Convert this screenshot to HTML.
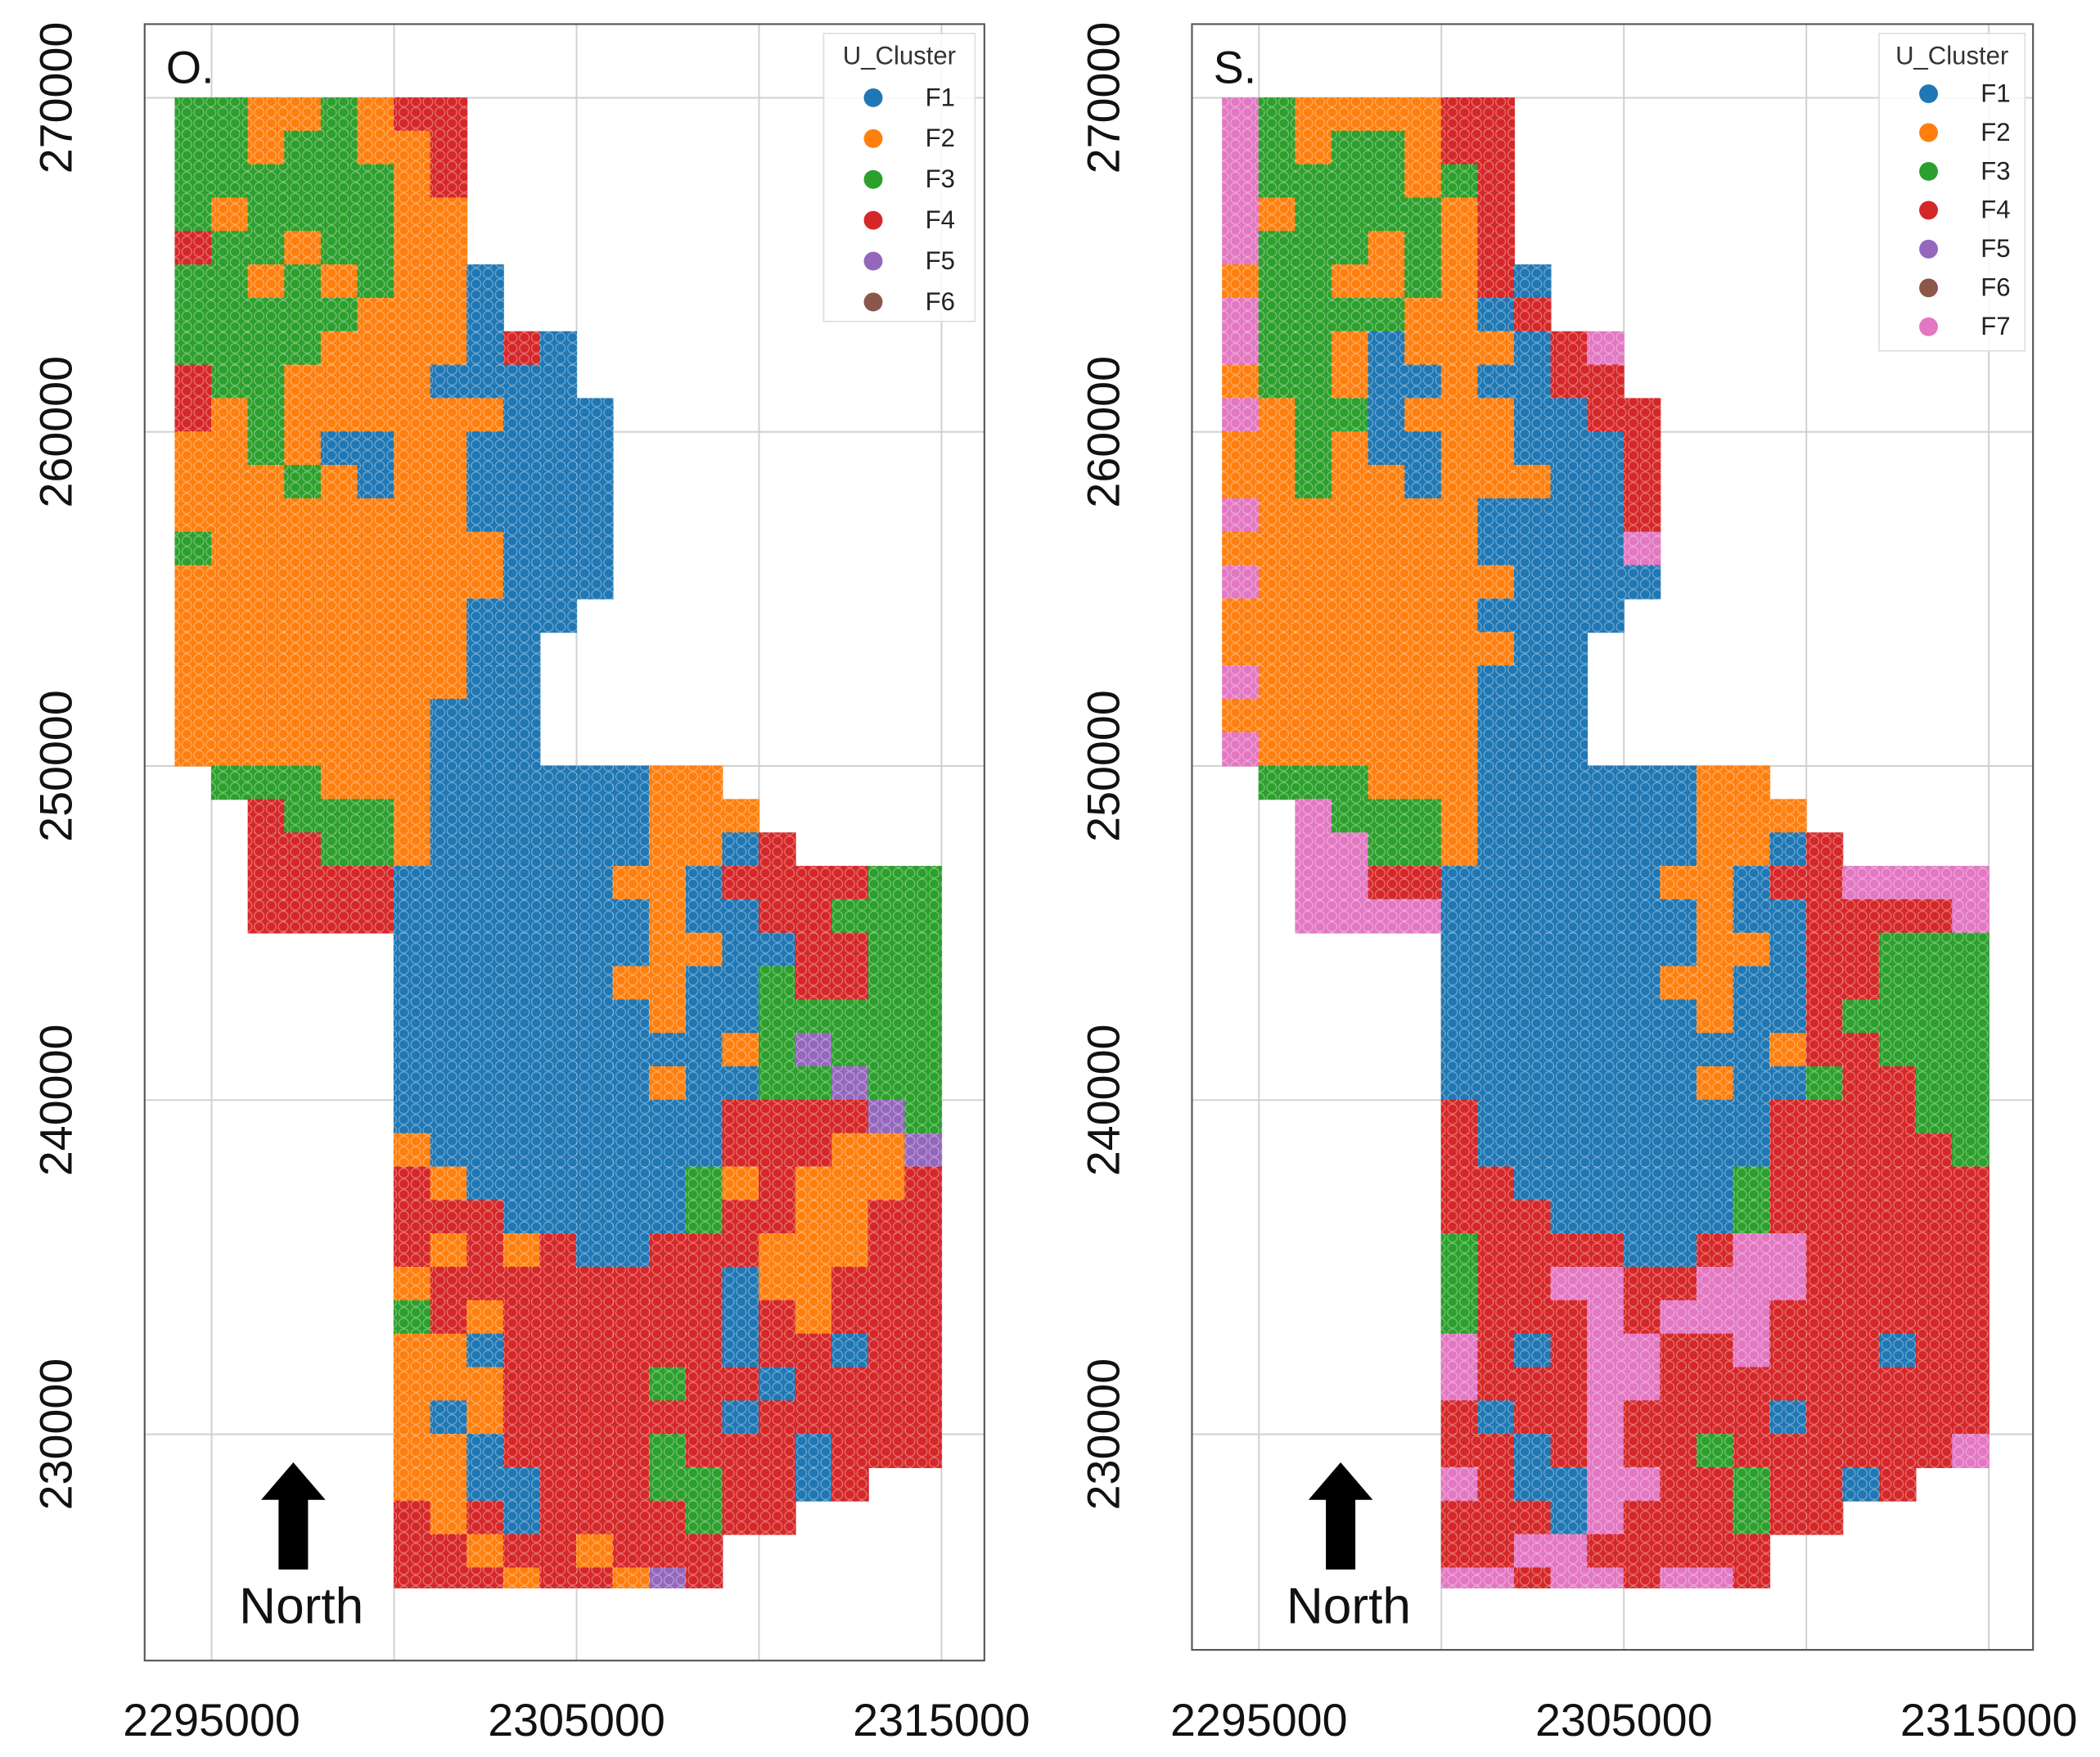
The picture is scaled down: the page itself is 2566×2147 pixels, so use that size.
<!DOCTYPE html>
<html><head><meta charset="utf-8"><style>
html,body{margin:0;padding:0;background:#fff;}
svg{display:block;font-family:"Liberation Sans",sans-serif;}
</style></head><body>
<svg id="chart" width="2566" height="2147" viewBox="0 0 1568 1312" preserveAspectRatio="none" xmlns="http://www.w3.org/2000/svg">
<defs>
<pattern id="dots" width="9" height="8" patternUnits="userSpaceOnUse">
<circle cx="4.5" cy="4" r="3.6" fill="none" stroke="#fff" stroke-opacity="0.35" stroke-width="0.8"/>
</pattern>
</defs>
</svg>
<script>
// ---- data ----
const clusterNames = ["F1","F2","F3","F4","F5","F6","F7"];
const clusterCodes = ["b","o","g","r","p","n","k"];
const clusterColors = ["#1f77b4","#ff7f0e","#2ca02c","#d62728","#9467bd","#8c564b","#e377c2"];
const xTicks = [2295000, 2305000, 2315000];
const xGrid = [2295000, 2300000, 2305000, 2310000, 2315000];
const yTicks = [270000, 260000, 250000, 240000, 230000];
const gridX0 = 2294000; // easting of column 0
const gridY0 = 270000;  // northing of row 0 top
const cellSize = 1000;
// rows: [startColumn, cluster codes]
const leftRows = [
[0,"ggoogorr"],[0,"ggoggoor"],[0,"ggggggor"],[0,"goggggoo"],[0,"rggoggoo"],
[0,"ggogogoob"],[0,"gggggooob"],[0,"ggggoooobrb"],[0,"rggoooobbbb"],[0,"rogoooooobbb"],
[0,"oogobboobbbb"],[0,"ooogoboobbbb"],[0,"oooooooobbbb"],[0,"goooooooobbb"],[0,"ooooooooobbb"],
[0,"oooooooobbb"],[0,"oooooooobb"],[0,"oooooooobb"],[0,"ooooooobbb"],[0,"ooooooobbb"],
[1,"gggooobbbbbboo"],[2,"rgggobbbbbbooo"],[2,"rrggobbbbbboobr"],[2,"rrrrbbbbbboobrrrrgg"],[2,"rrrrbbbbbbbobbrrggg"],
[6,"bbbbbbboobbrrgg"],[6,"bbbbbboobbgrrgg"],[6,"bbbbbbbobbggggg"],[6,"bbbbbbbbbogpggg"],[6,"bbbbbbbobbggpgg"],
[6,"bbbbbbbbbrrrrpg"],[6,"obbbbbbbbrrroop"],[6,"robbbbbbgorooor"],[6,"rrrbbbbbgrroorr"],[6,"rororbbrrrooorr"],
[6,"orrrrrrrrboorrr"],[6,"grorrrrrrbrorrr"],[6,"oobrrrrrrbrrbrr"],[6,"ooorrrrgrrbrrrr"],[6,"oborrrrrrbrrrrr"],
[6,"oobrrrrgrrrbrrr"],[6,"oobbrrrggrrbr"],[6,"rorbrrrrgrr"],[6,"rrorrorrr"],[6,"rrrorropr"]
];
const rightRows = [
[0,"kgoooorr"],[0,"kgoggorr"],[0,"kggggogr"],[0,"koggggor"],[0,"kgggogor"],
[0,"oggoogorb"],[0,"kggggoobr"],[0,"kggobooobrk"],[0,"oggobbobbrr"],[0,"koggbooobbrr"],
[0,"oogobboobbbr"],[0,"oogoobooobbr"],[0,"koooooobbbbr"],[0,"ooooooobbbbk"],[0,"kooooooobbbb"],
[0,"ooooooobbbb"],[0,"oooooooobb"],[0,"koooooobbb"],[0,"ooooooobbb"],[0,"koooooobbb"],
[1,"gggooobbbbbboo"],[2,"kgggobbbbbbooo"],[2,"kkggobbbbbboobr"],[2,"kkrrbbbbbboobrrkkkk"],[2,"kkkkbbbbbbbobbrrrrk"],
[6,"bbbbbbboobrrggg"],[6,"bbbbbboobbrrggg"],[6,"bbbbbbbobbrgggg"],[6,"bbbbbbbbborrggg"],[6,"bbbbbbbobbgrrgg"],
[6,"rbbbbbbbbrrrrgg"],[6,"rbbbbbbbbrrrrrg"],[6,"rrbbbbbbgrrrrrr"],[6,"rrrbbbbbgrrrrrr"],[6,"grrrrbbrkkrrrrr"],
[6,"grrkkrrkkkrrrrr"],[6,"grrrkrkkkrrrrrr"],[6,"krbrkkrrkrrrbrr"],[6,"krrrkkrrrrrrrrr"],[6,"rbrrkrrrrbrrrrr"],
[6,"rrbrkrrgrrrrrrk"],[6,"krbbkkrrgrrbr"],[6,"rrrbkrrrgrr"],[6,"rrkkrrrrr"],[6,"kkrkkrkkr"]
];
const panelLabels = ["O.","S."];
const legendCounts = [6,7];

// ---- drawing ----
const NS="http://www.w3.org/2000/svg";
const svg=document.getElementById("chart");
function mk(tag,attrs,parent){const e=document.createElementNS(NS,tag);for(const k in attrs)e.setAttribute(k,attrs[k]);(parent||svg).appendChild(e);return e;}

const panels=[
 {box:[108,18,735,1240], x0px:158, rows:leftRows, legend:[615,25,728,240], legStep:30.5, legY0:73},
 {box:[890,18,1518,1232], x0px:940, rows:rightRows, legend:[1403,25,1512,262], legStep:29, legY0:70}
];
const pxPerX=272.5/10000, pxPerY=249.5/10000, yRefPx=73;

panels.forEach((P,pi)=>{
  const g=mk("g",{});
  
  
  const sx=v=>P.x0px+(v-2295000)*pxPerX;
  const sy=v=>yRefPx+(270000-v)*pxPerY;
  const [bx0,by0,bx1,by1]=P.box;
  xGrid.forEach(v=>{const l=mk("line",{x1:sx(v),x2:sx(v),y1:by0,y2:by1,stroke:"#d0d0d0","stroke-width":1.2},g);
    });
  yTicks.forEach(v=>{const l=mk("line",{x1:bx0,x2:bx1,y1:sy(v),y2:sy(v),stroke:"#d0d0d0","stroke-width":1.2},g);
    });
  const cg=mk("g",{},g);
  
  
  const tg=mk("g",{},g);
  
  
  P.rows.forEach((row,r)=>{
    const [start,codes]=row;
    for(let i=0;i<codes.length;i++){
      const ci=clusterCodes.indexOf(codes[i]); if(ci<0)continue;
      const c=start+i;
      const ex=gridX0+c*cellSize, ny=gridY0-r*cellSize;
      const x=sx(ex), y=sy(ny), w=sx(ex+cellSize)-x;
      let h=sy(ny-cellSize)-y;
      if(r===P.rows.length-1) h*=0.6;
      const rc=mk("rect",{x:x-0.3,y:y-0.3,width:w+0.6,height:h+0.6,fill:clusterColors[ci]},cg);
      
      
      const ov=mk("rect",{x:x-0.3,y:y-0.3,width:w+0.6,height:h+0.6,fill:"url(#dots)"},tg);
      
      
    }
  });
  const fr=mk("rect",{x:bx0,y:by0,width:bx1-bx0,height:by1-by0,fill:"none",stroke:"#555","stroke-width":1.3},g);
  
  xTicks.forEach(v=>{const t=mk("text",{x:sx(v),y:1296,"font-size":34,"text-anchor":"middle",fill:"#111"},g);t.textContent=v;
    });
  yTicks.forEach(v=>{const tx=bx0-66, ty=sy(v);const t=mk("text",{x:tx,y:ty,"font-size":34,"text-anchor":"middle",fill:"#111",transform:`rotate(-90 ${tx} ${ty})`,"dominant-baseline":"central"},g);t.textContent=v;
    });
  const pl=mk("text",{x:bx0+16,y:62,"font-size":34,fill:"#111"},g);pl.textContent=panelLabels[pi];
  
  const [lx0,ly0,lx1,ly1]=P.legend;
  const lg=mk("g",{},g);
  
  mk("rect",{x:lx0,y:ly0,width:lx1-lx0,height:ly1-ly0,fill:"rgba(255,255,255,0.85)",stroke:"#ddd","stroke-width":1},lg);
  const lt=mk("text",{x:(lx0+lx1)/2,y:ly0+23,"font-size":19,"text-anchor":"middle",fill:"#333"},lg);lt.textContent="U_Cluster";
  
  for(let k=0;k<legendCounts[pi];k++){
    const yy=P.legY0+k*P.legStep;
    const e=mk("g",{},lg);
    
    mk("circle",{cx:lx0+37,cy:yy,r:7,fill:clusterColors[k]},e);
    const tt=mk("text",{x:lx0+87,y:yy+6,"font-size":19,"text-anchor":"middle",fill:"#222"},e);tt.textContent=clusterNames[k];
  }
  const ax=bx0+111;
  const na=mk("g",{},g);
  
  mk("polygon",{points:`${ax-11},1172 ${ax+11},1172 ${ax+11},1120 ${ax+24},1120 ${ax},1092 ${ax-24},1120 ${ax-11},1120`,fill:"#000"},na);
  const nt=mk("text",{x:ax+6,y:1212,"font-size":38,"text-anchor":"middle",fill:"#111"},na);nt.textContent="North";
});
</script>
</body></html>
